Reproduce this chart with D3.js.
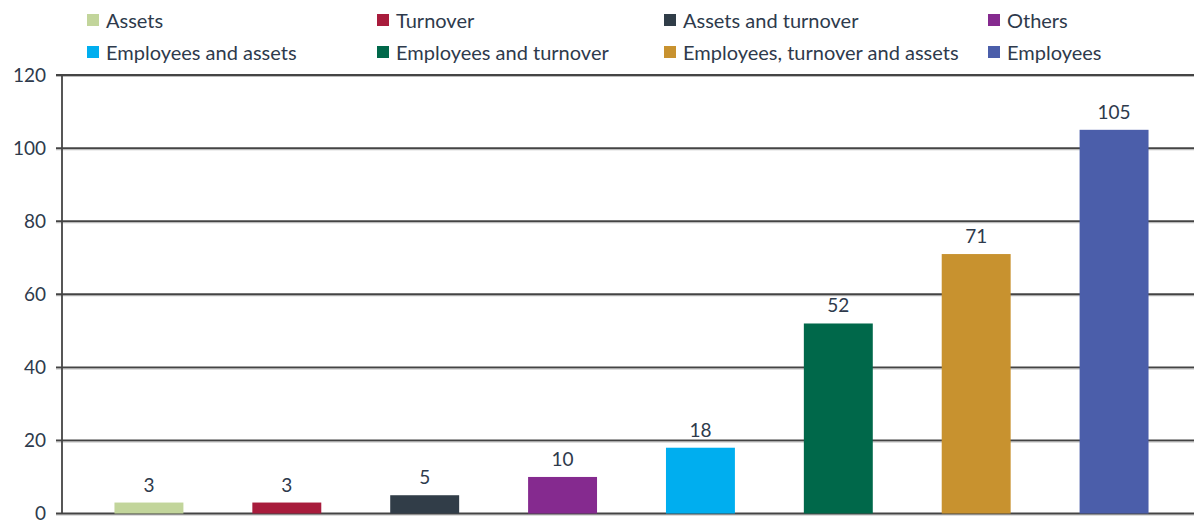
<!DOCTYPE html>
<html>
<head>
<meta charset="utf-8">
<script src="https://cdn.jsdelivr.net/npm/d3@7"></script>
<style>
  html, body { margin: 0; padding: 0; background: #fff; }
  svg text { font-family: Lato, "Open Sans", sans-serif; fill: #2e3a4c; }
</style>
</head>
<body>
<svg id="chart" width="1194" height="523"></svg>
<script>
// Criteria used to define company size, and how often each is used
const categories = [
  "Assets",
  "Turnover",
  "Assets and turnover",
  "Others",
  "Employees and assets",
  "Employees and turnover",
  "Employees, turnover and assets",
  "Employees"
];
const counts = [3, 3, 5, 10, 18, 52, 71, 105];
const colors = ["#c2d59b", "#a81c3c", "#313d48", "#852a8f", "#00aeef", "#00684a", "#c8922f", "#4b5eaa"];
const yTicks = [0, 20, 40, 60, 80, 100, 120];

const svg = d3.select("#chart");
const axisX = 62, plotRight = 1194;
const y0 = 513.5, yTop = 75;

const x = d3.scaleBand()
  .domain(categories)
  .range([80, 1183])
  .paddingInner(0.5)
  .paddingOuter(0.25);

const y = d3.scaleLinear().domain([0, 120]).range([y0, yTop]);

// Horizontal gridlines with soft shadow
const grid = svg.append("g");
grid.selectAll("line.shadow")
  .data(yTicks)
  .join("line")
  .attr("class", "shadow")
  .attr("x1", axisX - 6).attr("x2", plotRight)
  .attr("y1", d => y(d) + 1.5).attr("y2", d => y(d) + 1.5)
  .attr("stroke", "#bbb").attr("stroke-width", 1.2);
grid.selectAll("line.main")
  .data(yTicks)
  .join("line")
  .attr("class", "main")
  .attr("x1", axisX - 6).attr("x2", plotRight)
  .attr("y1", d => y(d)).attr("y2", d => y(d))
  .attr("stroke", "#444").attr("stroke-width", 1.8);

// Y axis line
svg.append("line")
  .attr("x1", axisX).attr("x2", axisX)
  .attr("y1", y(120)).attr("y2", y(0))
  .attr("stroke", "#444").attr("stroke-width", 1.8);

// Y tick labels
svg.append("g")
  .selectAll("text")
  .data(yTicks)
  .join("text")
  .attr("x", 46)
  .attr("y", d => y(d))
  .attr("dy", "0.35em")
  .attr("text-anchor", "end")
  .attr("font-size", 19)
  .text(d => d);

// Bars
svg.append("g")
  .selectAll("rect")
  .data(categories)
  .join("rect")
  .attr("x", d => x(d))
  .attr("width", x.bandwidth())
  .attr("y", (d, i) => y(counts[i]))
  .attr("height", (d, i) => y(0) - y(counts[i]))
  .attr("fill", (d, i) => colors[i]);

// Value labels
svg.append("g")
  .selectAll("text")
  .data(categories)
  .join("text")
  .attr("x", d => x(d) + x.bandwidth() / 2)
  .attr("y", (d, i) => y(counts[i]) - 11)
  .attr("text-anchor", "middle")
  .attr("font-size", 19)
  .text((d, i) => counts[i]);

// Legend: two rows of four
const legendCols = [87, 377, 664, 988];
const legendRows = [20, 52];
const legend = svg.append("g")
  .selectAll("g")
  .data(categories)
  .join("g")
  .attr("transform", (d, i) => `translate(${legendCols[i % 4]},${legendRows[Math.floor(i / 4)]})`);
legend.append("rect")
  .attr("x", 0).attr("y", -6).attr("width", 12).attr("height", 12)
  .attr("fill", (d, i) => colors[i]);
legend.append("text")
  .attr("x", 19).attr("y", 1).attr("dy", "0.35em")
  .attr("font-size", 20)
  .text(d => d);
</script>
</body>
</html>
